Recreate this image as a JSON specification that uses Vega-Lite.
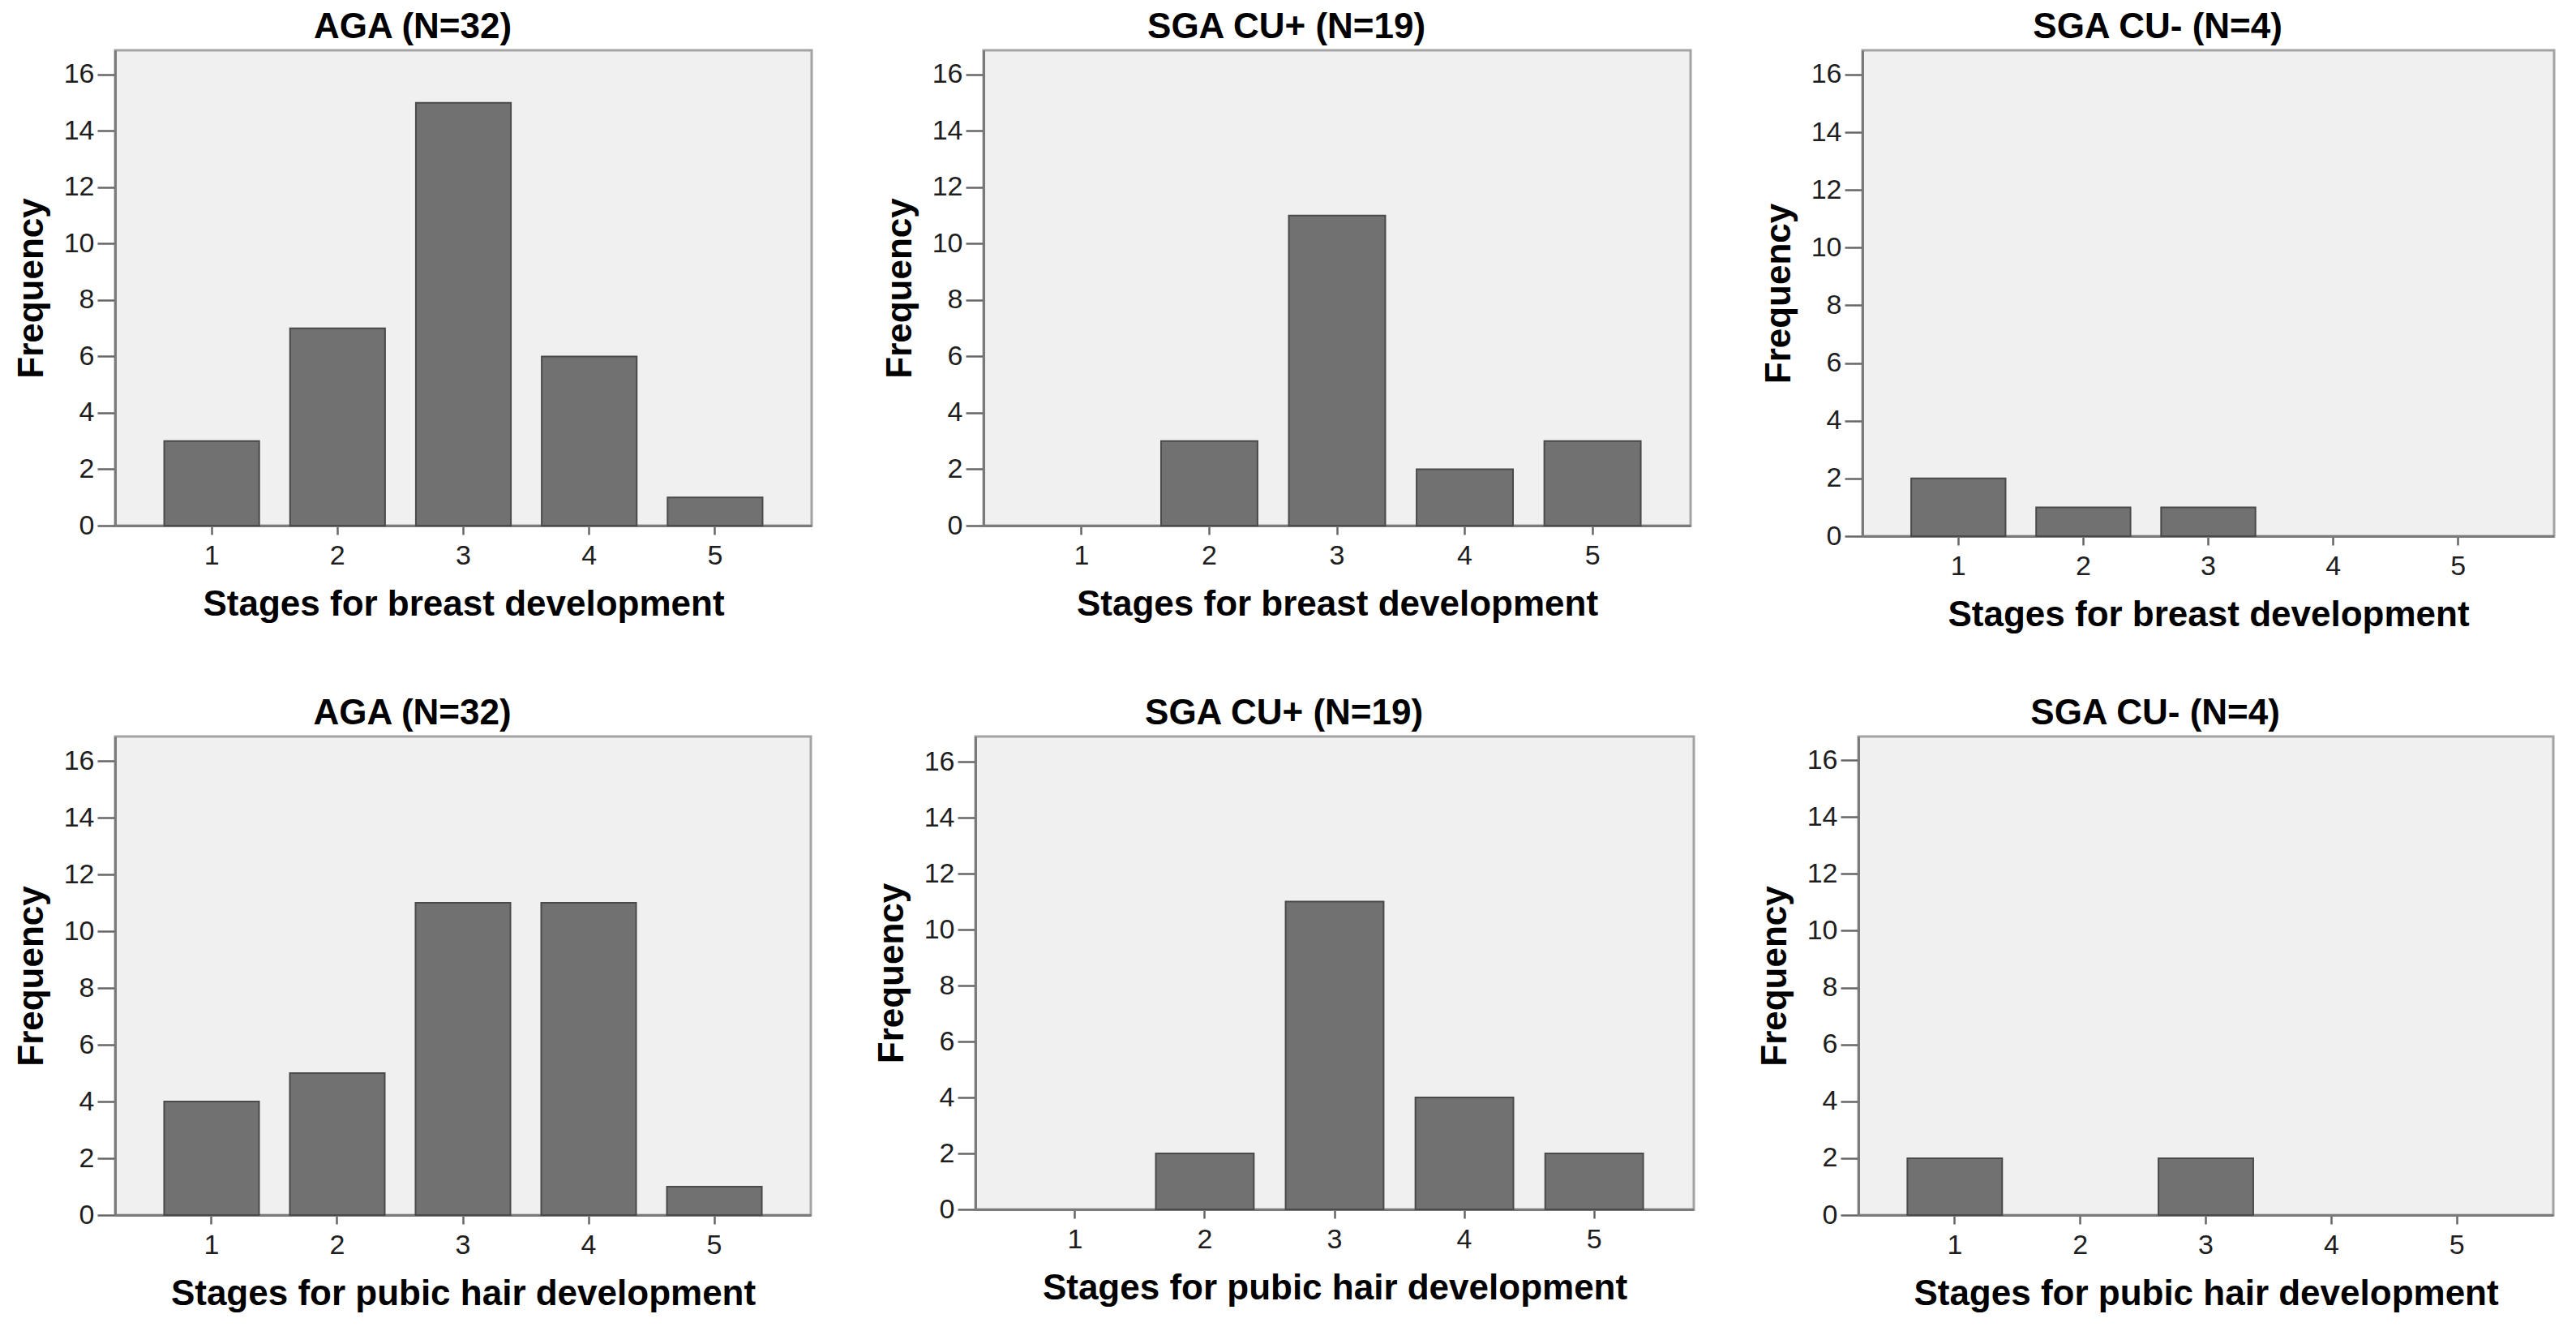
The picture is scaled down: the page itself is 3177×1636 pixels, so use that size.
{
  "$schema": "https://vega.github.io/schema/vega-lite/v6.json",
  "padding": {"left": 15, "top": 10, "right": 5, "bottom": 5},
  "background": "#ffffff",
  "datasets": {
    "freq": [
      {"panel": "TL", "stage": 1, "freq": 3},
      {"panel": "TL", "stage": 2, "freq": 7},
      {"panel": "TL", "stage": 3, "freq": 15},
      {"panel": "TL", "stage": 4, "freq": 6},
      {"panel": "TL", "stage": 5, "freq": 1},
      {"panel": "TM", "stage": 2, "freq": 3},
      {"panel": "TM", "stage": 3, "freq": 11},
      {"panel": "TM", "stage": 4, "freq": 2},
      {"panel": "TM", "stage": 5, "freq": 3},
      {"panel": "TR", "stage": 1, "freq": 2},
      {"panel": "TR", "stage": 2, "freq": 1},
      {"panel": "TR", "stage": 3, "freq": 1},
      {"panel": "BL", "stage": 1, "freq": 4},
      {"panel": "BL", "stage": 2, "freq": 5},
      {"panel": "BL", "stage": 3, "freq": 11},
      {"panel": "BL", "stage": 4, "freq": 11},
      {"panel": "BL", "stage": 5, "freq": 1},
      {"panel": "BM", "stage": 2, "freq": 2},
      {"panel": "BM", "stage": 3, "freq": 11},
      {"panel": "BM", "stage": 4, "freq": 4},
      {"panel": "BM", "stage": 5, "freq": 2},
      {"panel": "BR", "stage": 1, "freq": 2},
      {"panel": "BR", "stage": 3, "freq": 2}
    ]
  },
  "vconcat": [
    {
      "spacing": 83,
      "hconcat": [
        {
          "title": "AGA (N=32)",
          "width": 859, "height": 586,
          "data": {"name": "freq"},
          "transform": [{"filter": "datum.panel === 'TL'"}],
          "mark": {"type": "bar", "fill": "#717171", "stroke": "#4a4a4a", "strokeWidth": 2},
          "encoding": {
            "x": {"field": "stage", "type": "ordinal", "title": "Stages for breast development", "scale": {"domain": [1, 2, 3, 4, 5], "paddingInner": 0.245, "paddingOuter": 0.39}},
            "y": {"field": "freq", "type": "quantitative", "title": "Frequency", "scale": {"domain": [0, 16.86], "nice": false}, "axis": {"values": [0, 2, 4, 6, 8, 10, 12, 14, 16]}}
          }
        },
        {
          "title": "SGA CU+ (N=19)",
          "width": 872, "height": 586,
          "data": {"name": "freq"},
          "transform": [{"filter": "datum.panel === 'TM'"}],
          "mark": {"type": "bar", "fill": "#717171", "stroke": "#4a4a4a", "strokeWidth": 2},
          "encoding": {
            "x": {"field": "stage", "type": "ordinal", "title": "Stages for breast development", "scale": {"domain": [1, 2, 3, 4, 5], "paddingInner": 0.245, "paddingOuter": 0.39}},
            "y": {"field": "freq", "type": "quantitative", "title": "Frequency", "scale": {"domain": [0, 16.86], "nice": false}, "axis": {"values": [0, 2, 4, 6, 8, 10, 12, 14, 16]}}
          }
        },
        {
          "title": "SGA CU- (N=4)",
          "width": 853, "height": 599,
          "data": {"name": "freq"},
          "transform": [{"filter": "datum.panel === 'TR'"}],
          "mark": {"type": "bar", "fill": "#717171", "stroke": "#4a4a4a", "strokeWidth": 2},
          "encoding": {
            "x": {"field": "stage", "type": "ordinal", "title": "Stages for breast development", "scale": {"domain": [1, 2, 3, 4, 5], "paddingInner": 0.245, "paddingOuter": 0.39}},
            "y": {"field": "freq", "type": "quantitative", "title": "Frequency", "scale": {"domain": [0, 16.84], "nice": false}, "axis": {"values": [0, 2, 4, 6, 8, 10, 12, 14, 16]}}
          }
        }
      ]
    },
    {
      "spacing": 74,
      "hconcat": [
        {
          "title": "AGA (N=32)",
          "width": 858, "height": 590,
          "data": {"name": "freq"},
          "transform": [{"filter": "datum.panel === 'BL'"}],
          "mark": {"type": "bar", "fill": "#717171", "stroke": "#4a4a4a", "strokeWidth": 2},
          "encoding": {
            "x": {"field": "stage", "type": "ordinal", "title": "Stages for pubic hair development", "scale": {"domain": [1, 2, 3, 4, 5], "paddingInner": 0.245, "paddingOuter": 0.39}},
            "y": {"field": "freq", "type": "quantitative", "title": "Frequency", "scale": {"domain": [0, 16.86], "nice": false}, "axis": {"values": [0, 2, 4, 6, 8, 10, 12, 14, 16]}}
          }
        },
        {
          "title": "SGA CU+ (N=19)",
          "width": 886, "height": 583,
          "data": {"name": "freq"},
          "transform": [{"filter": "datum.panel === 'BM'"}],
          "mark": {"type": "bar", "fill": "#717171", "stroke": "#4a4a4a", "strokeWidth": 2},
          "encoding": {
            "x": {"field": "stage", "type": "ordinal", "title": "Stages for pubic hair development", "scale": {"domain": [1, 2, 3, 4, 5], "paddingInner": 0.245, "paddingOuter": 0.39}},
            "y": {"field": "freq", "type": "quantitative", "title": "Frequency", "scale": {"domain": [0, 16.9], "nice": false}, "axis": {"values": [0, 2, 4, 6, 8, 10, 12, 14, 16]}}
          }
        },
        {
          "title": "SGA CU- (N=4)",
          "width": 857, "height": 590,
          "data": {"name": "freq"},
          "transform": [{"filter": "datum.panel === 'BR'"}],
          "mark": {"type": "bar", "fill": "#717171", "stroke": "#4a4a4a", "strokeWidth": 2},
          "encoding": {
            "x": {"field": "stage", "type": "ordinal", "title": "Stages for pubic hair development", "scale": {"domain": [1, 2, 3, 4, 5], "paddingInner": 0.245, "paddingOuter": 0.39}},
            "y": {"field": "freq", "type": "quantitative", "title": "Frequency", "scale": {"domain": [0, 16.83], "nice": false}, "axis": {"values": [0, 2, 4, 6, 8, 10, 12, 14, 16]}}
          }
        }
      ]
    }
  ],
  "spacing": 74,
  "config": {
    "font": "Liberation Sans",
    "view": {"fill": "#f0f0f0", "stroke": "#a3a3a3", "strokeWidth": 3},
    "title": {"fontSize": 44, "fontWeight": "bold", "color": "#000000", "anchor": "middle", "frame": "bounds", "offset": 6},
    "axis": {
      "grid": false,
      "labelFont": "Liberation Sans",
      "labelFontSize": 34,
      "labelColor": "#1e1e1e",
      "titleFont": "Liberation Sans",
      "titleFontSize": 44,
      "titleFontWeight": "bold",
      "titleColor": "#000000",
      "domainColor": "#7a7a7a",
      "domainWidth": 3,
      "tickColor": "#666666",
      "tickWidth": 2.5
    },
    "axisX": {"labelAngle": 0, "tickSize": 11, "labelPadding": 9, "titlePadding": 21},
    "axisY": {"tickSize": 22, "labelPadding": 4, "titlePadding": 17}
  }
}
